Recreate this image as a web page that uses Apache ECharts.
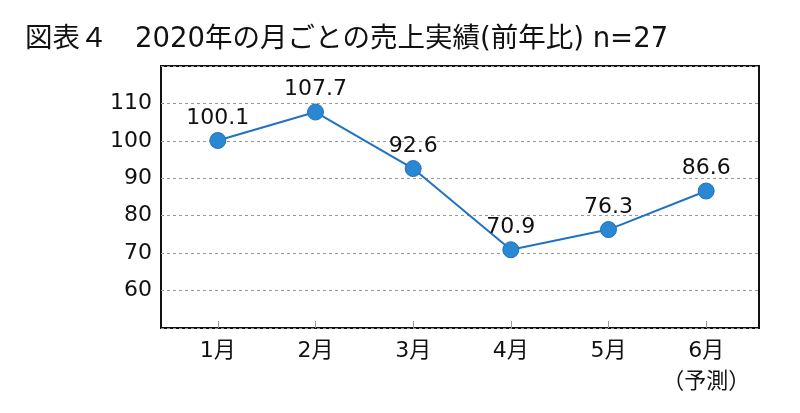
<!DOCTYPE html>
<html>
<head>
<meta charset="utf-8">
<script src="https://cdn.jsdelivr.net/npm/echarts@6/dist/echarts.min.js"></script>
<style>
html, body { margin: 0; padding: 0; background: #fff; }
#chart { width: 800px; height: 413px; }
</style>
</head>
<body>
<div id="chart"></div>
<script>
// 月ごとの売上実績（前年比）
var months = ['1月', '2月', '3月', '4月', '5月', '6月\n（予測）'];
var sales = [100.1, 107.7, 92.6, 70.9, 76.3, 86.6];
var yTicks = [60, 70, 80, 90, 100, 110];

var fontFamily = '"DejaVu Sans", "Noto Sans CJK JP", sans-serif';
var textColor = '#111';
var lineColor = '#1f72c4';
var yMin = 50, yMax = 120;

var chart = echarts.init(document.getElementById('chart'));
var option = {
	backgroundColor: '#fff',
	animation: false,
	title: {
		text: '図表４　2020年の月ごとの売上実績(前年比) n=27',
		left: 20,
		top: 21,
		textStyle: {
			fontFamily: fontFamily,
			fontSize: 27.5,
			fontWeight: 'normal',
			color: textColor
		}
	},
	grid: [{
		// 枠とY軸
		left: 161,
		right: 41,
		top: 66,
		bottom: 85,
		show: true,
		borderColor: '#111',
		borderWidth: 2
	}, {
		// 折れ線（カテゴリ位置）
		left: 169,
		right: 45,
		top: 66,
		bottom: 85
	}],
	xAxis: [{
		gridIndex: 0,
		type: 'value',
		show: false
	}, {
		gridIndex: 1,
		type: 'category',
		data: months,
		boundaryGap: true,
		axisLine: { show: false },
		axisTick: {
			show: true,
			inside: true,
			alignWithLabel: true,
			interval: 0,
			length: 7,
			lineStyle: { color: '#999', width: 1 }
		},
		axisLabel: {
			interval: 0,
			margin: 8,
			fontFamily: fontFamily,
			fontSize: 22,
			lineHeight: 31,
			color: textColor,
			verticalAlign: 'top'
		}
	}],
	yAxis: [{
		gridIndex: 0,
		type: 'value',
		min: yMin,
		max: yMax,
		interval: 10,
		axisLine: { show: false },
		axisTick: { show: false },
		axisLabel: {
			margin: 9,
			padding: [4, 0, 0, 0],
			fontFamily: fontFamily,
			fontSize: 22,
			color: textColor,
			formatter: function(v) {
				return yTicks.indexOf(v) >= 0 ? String(v) : '';
			}
		},
		splitLine: {
			show: true,
			lineStyle: { color: '#999', type: [3, 3], width: 1 }
		}
	}, {
		gridIndex: 1,
		type: 'value',
		min: yMin,
		max: yMax,
		interval: 10,
		show: false,
		splitLine: { show: false }
	}],
	series: [{
		name: '前年比',
		type: 'line',
		xAxisIndex: 1,
		yAxisIndex: 1,
		data: sales,
		symbol: 'circle',
		symbolSize: 16,
		lineStyle: { color: lineColor, width: 2 },
		itemStyle: {
			color: '#2a87d2',
			borderColor: '#1f72c4',
			borderWidth: 1
		},
		label: {
			show: true,
			position: 'top',
			distance: 3,
			fontFamily: fontFamily,
			fontSize: 22,
			color: textColor,
			formatter: function(p) {
				return p.value.toFixed(1);
			}
		}
	}]
};
chart.setOption(option);
</script>
</body>
</html>
